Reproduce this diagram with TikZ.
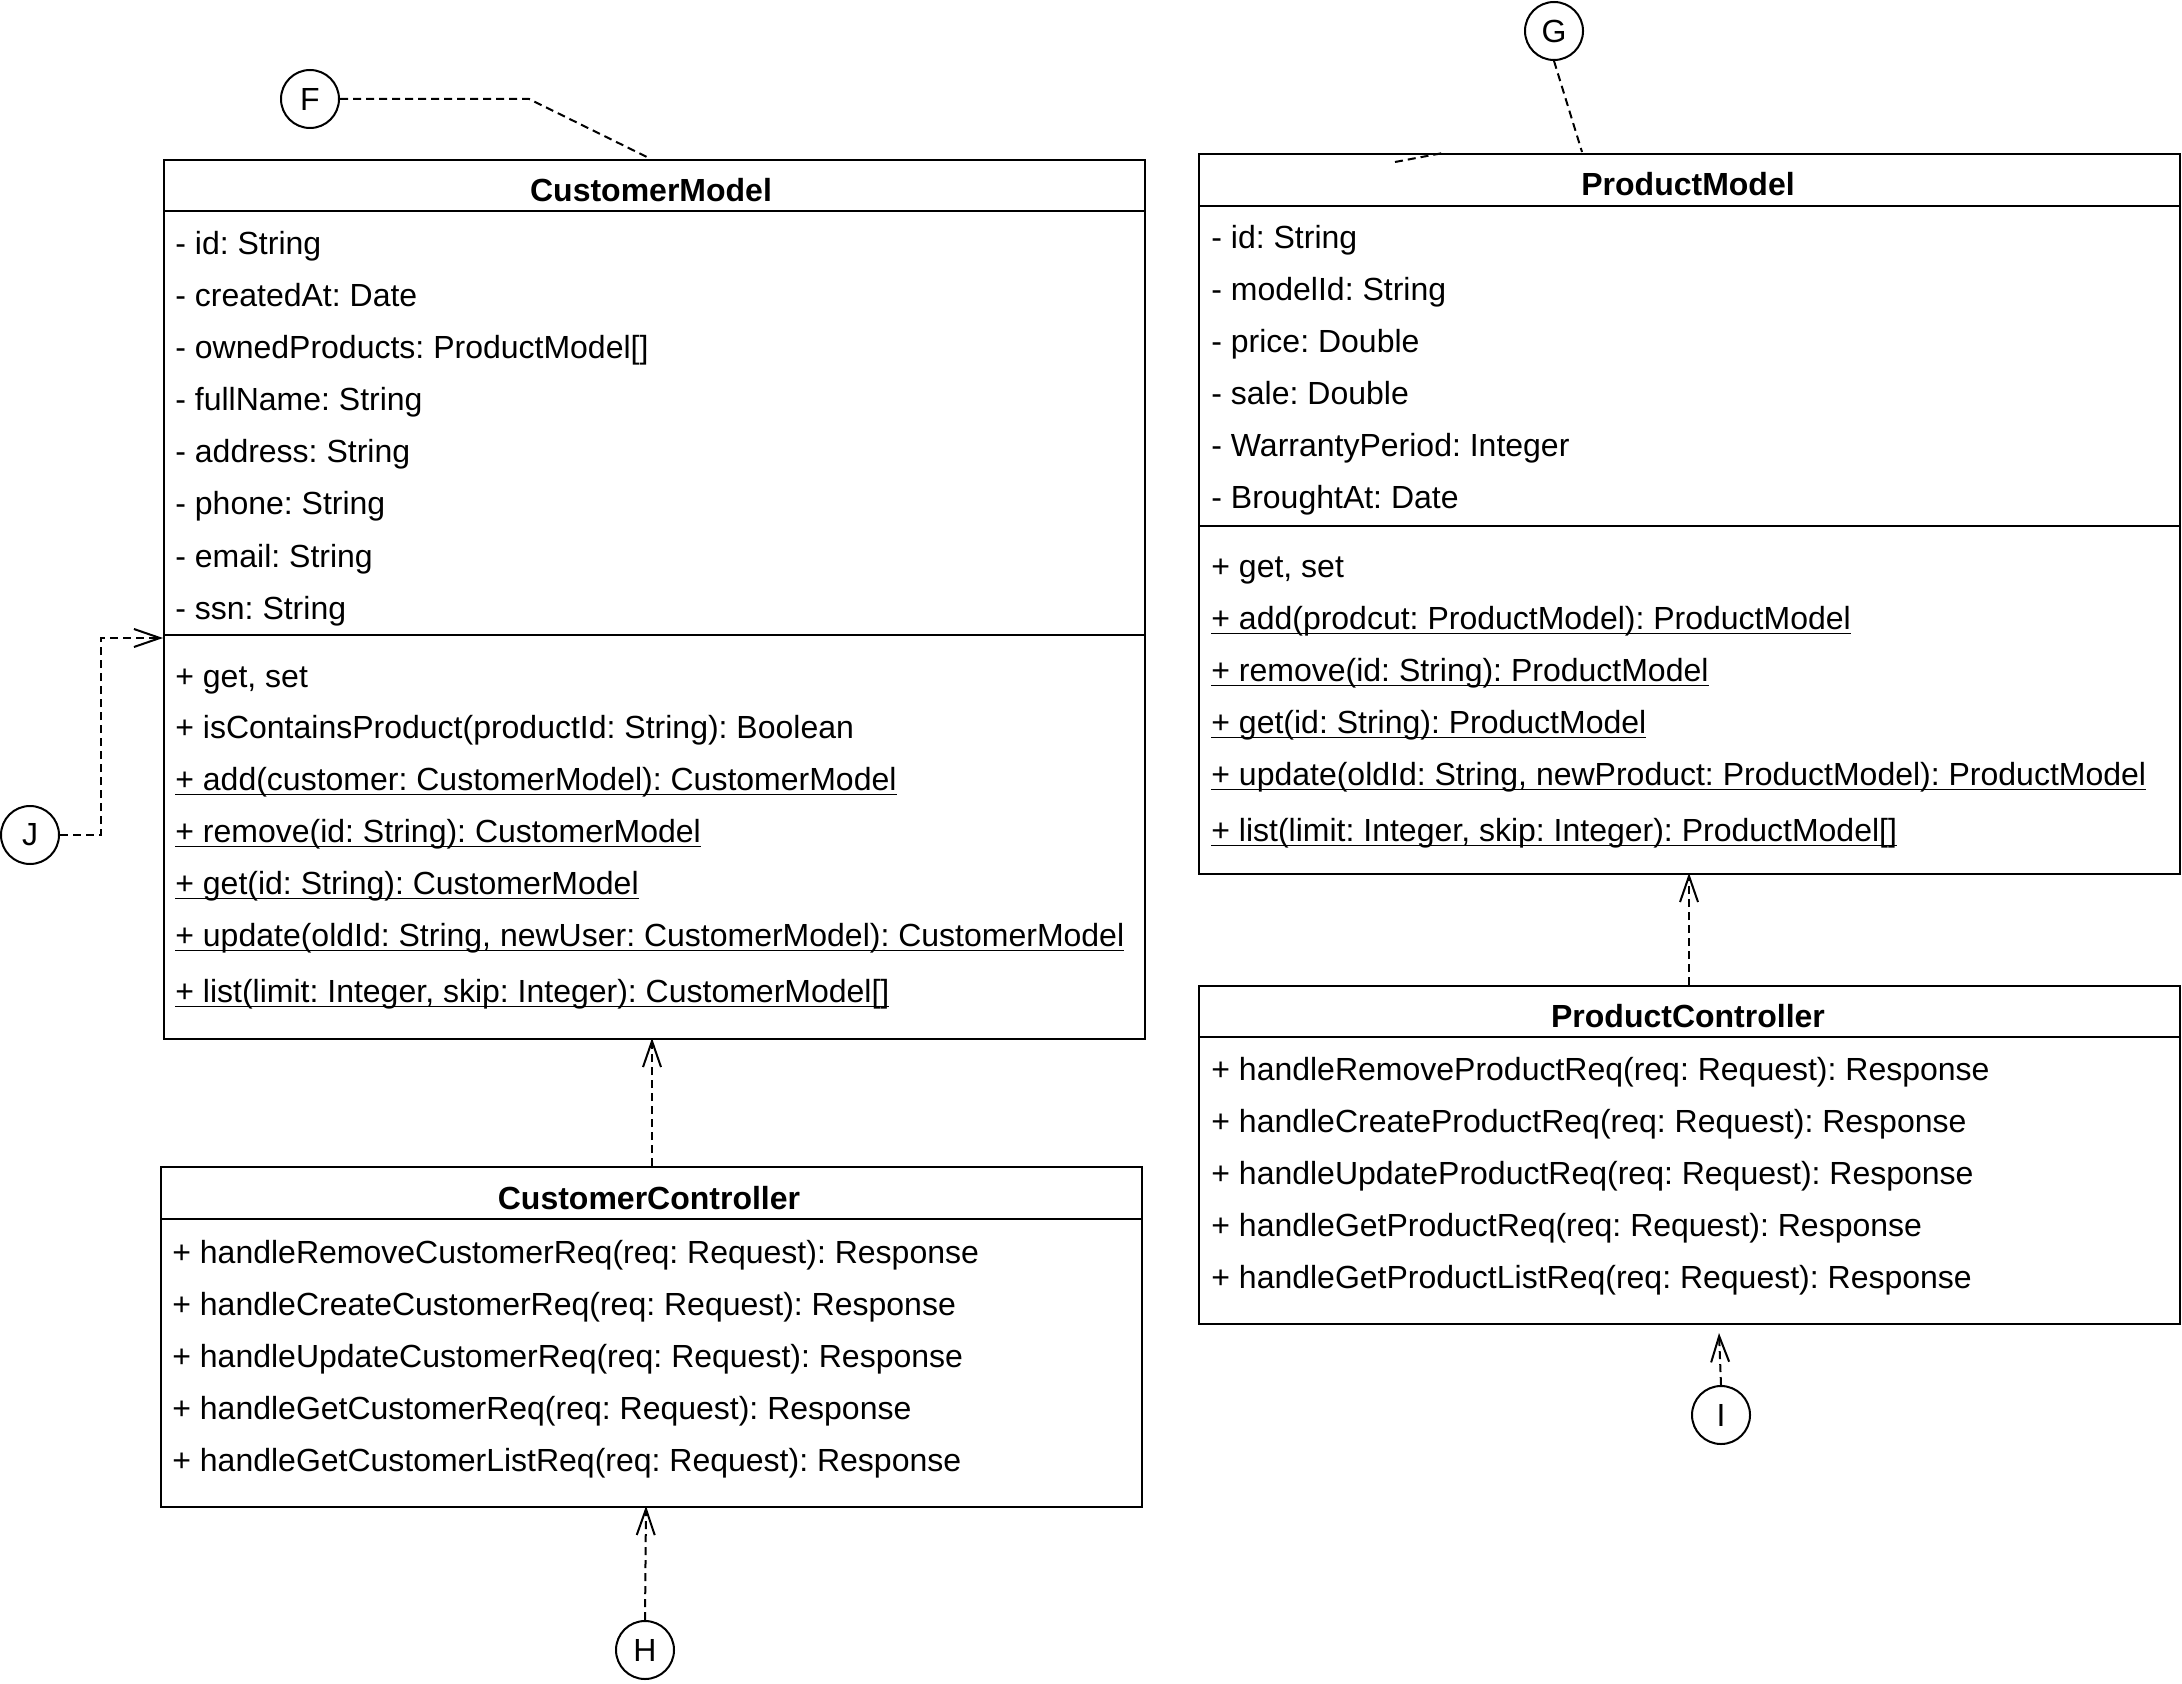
\documentclass[tikz,border=0pt]{standalone}
\usepackage{fontspec}
\setmainfont{Liberation Sans}
\usetikzlibrary{arrows.meta,calc}
\frenchspacing
% static operations: underline sitting just below the baseline
\newcommand\staticop[1]{\setbox0\hbox{#1}\rlap{\rule[-2.6pt]{\wd0}{0.8pt}}\box0}
\begin{document}
\begin{tikzpicture}[x=0.5pt,y=-0.5pt,
  classbox/.style={draw,line width=1pt,rectangle,anchor=north west,inner sep=0pt,minimum width=490.5pt},
  member/.style={anchor=base west,inner sep=0pt,font=\fontsize{16pt}{18pt}\selectfont},
  classtitle/.style={anchor=base,inner sep=0pt,font=\fontsize{16pt}{18pt}\selectfont\bfseries},
  refcircle/.style={draw,circle,line width=1pt,minimum size=29pt,inner sep=0pt,font=\fontsize{16pt}{18pt}\selectfont},
  sep/.style={line width=1pt},
  dep/.style={dash pattern=on 4pt off 2.5pt,line width=1pt},
  deparrow/.style={dep,-{Straight Barb[length=13pt,width=9pt,line width=1pt]}},
]
\useasboundingbox (0,0) rectangle (2182,1684);

% ---------------- CustomerModel ----------------
\node[classbox,minimum height=439.5pt] (cm) at (163,159) {};
\draw[sep] (cm.west |- 0,211) -- (cm.east |- 0,211);
\draw[sep] (cm.west |- 0,635) -- (cm.east |- 0,635);
\node[classtitle] (cmT) at (651,202) {CustomerModel};
\node[member] (cm1) at (175,255) {- id: String};
\node[member] (cm2) at (175,307) {- createdAt: Date};
\node[member] (cm3) at (175,359) {- ownedProducts: ProductModel[]};
\node[member] (cm4) at (175,411) {- fullName: String};
\node[member] (cm5) at (175,463) {- address: String};
\node[member] (cm6) at (175,515) {- phone: String};
\node[member] (cm7) at (175,567) {- email: String};
\node[member] (cm8) at (175,619) {- ssn: String};
\node[member] (cmm1) at (175,687) {+ get, set};
\node[member] (cmm2) at (175,738) {+ isContainsProduct(productId: String): Boolean};
\node[member] (cmm3) at (175,790) {\staticop{+ add(customer: CustomerModel): CustomerModel}};
\node[member] (cmm4) at (175,842) {\staticop{+ remove(id: String): CustomerModel}};
\node[member] (cmm5) at (175,894) {\staticop{+ get(id: String): CustomerModel}};
\node[member] (cmm6) at (175,946) {\staticop{+ update(oldId: String, newUser: CustomerModel): CustomerModel}};
\node[member] (cmm7) at (175,1002) {\staticop{+ list(limit: Integer, skip: Integer): CustomerModel[]}};

% ---------------- CustomerController ----------------
\node[classbox,minimum height=170pt] (cc) at (160,1166) {};
\draw[sep] (cc.west |- 0,1219) -- (cc.east |- 0,1219);
\node[classtitle] (ccT) at (649,1209) {CustomerController};
\node[member] (cc1) at (172,1263) {+ handleRemoveCustomerReq(req: Request): Response};
\node[member] (cc2) at (172,1315) {+ handleCreateCustomerReq(req: Request): Response};
\node[member] (cc3) at (172,1367) {+ handleUpdateCustomerReq(req: Request): Response};
\node[member] (cc4) at (172,1419) {+ handleGetCustomerReq(req: Request): Response};
\node[member] (cc5) at (172,1471) {+ handleGetCustomerListReq(req: Request): Response};

% ---------------- ProductModel ----------------
\node[classbox,minimum height=360pt] (pm) at (1198,153) {};
\draw[sep] (pm.west |- 0,206) -- (pm.east |- 0,206);
\draw[sep] (pm.west |- 0,526) -- (pm.east |- 0,526);
\node[classtitle] (pmT) at (1688,196) {ProductModel};
\node[member] (pm1) at (1211,249) {- id: String};
\node[member] (pm2) at (1211,301) {- modelId: String};
\node[member] (pm3) at (1211,353) {- price: Double};
\node[member] (pm4) at (1211,405) {- sale: Double};
\node[member] (pm5) at (1211,457) {- WarrantyPeriod: Integer};
\node[member] (pm6) at (1211,509) {- BroughtAt: Date};
\node[member] (pmm1) at (1211,577) {+ get, set};
\node[member] (pmm2) at (1211,629) {\staticop{+ add(prodcut: ProductModel): ProductModel}};
\node[member] (pmm3) at (1211,681) {\staticop{+ remove(id: String): ProductModel}};
\node[member] (pmm4) at (1211,733) {\staticop{+ get(id: String): ProductModel}};
\node[member] (pmm5) at (1211,785) {\staticop{+ update(oldId: String, newProduct: ProductModel): ProductModel}};
\node[member] (pmm6) at (1211,841) {\staticop{+ list(limit: Integer, skip: Integer): ProductModel[]}};

% ---------------- ProductController ----------------
\node[classbox,minimum height=169pt] (pc) at (1198,985) {};
\draw[sep] (pc.west |- 0,1037) -- (pc.east |- 0,1037);
\node[classtitle] (pcT) at (1688,1027) {ProductController};
\node[member] (pc1) at (1211,1080) {+ handleRemoveProductReq(req: Request): Response};
\node[member] (pc2) at (1211,1132) {+ handleCreateProductReq(req: Request): Response};
\node[member] (pc3) at (1211,1184) {+ handleUpdateProductReq(req: Request): Response};
\node[member] (pc4) at (1211,1236) {+ handleGetProductReq(req: Request): Response};
\node[member] (pc5) at (1211,1288) {+ handleGetProductListReq(req: Request): Response};

% ---------------- reference circles ----------------
\node[refcircle] (F) at (310,99) {F};
\node[refcircle] (G) at (1554,31) {G};
\node[refcircle] (J) at (30,835) {J};
\node[refcircle] (I) at (1721,1415) {I};
\node[refcircle] (H) at (645,1650) {H};

% ---------------- connectors ----------------
\coordinate (fBend) at (529,99);
\coordinate (fEnd) at (651,159);
\draw[dep] (F.east) -- (fBend) -- (fEnd);

\coordinate (gEnd) at (1582,152);
\draw[dep] (G.south) -- (gEnd);
\coordinate (pStubA) at (1395,162);
\coordinate (pStubB) at (1443,153);
\draw[dep] (pStubA) -- (pStubB);

\coordinate (jBendA) at (101,835);
\coordinate (jBendB) at (101,638);
\coordinate (jEnd) at (163,638);
\draw[deparrow] (J.east) -- (jBendA) -- (jBendB) -- (jEnd);

\draw[deparrow] (652,1166) -- (652,1038);
\draw[deparrow] (1689,985) -- (1689,873);

\coordinate (hTip) at (646,1506);
\draw[deparrow] (H.north) -- (hTip);
\coordinate (iTip) at (1719,1333);
\draw[deparrow] (I.north) -- (iTip);
\end{tikzpicture}
\end{document}
